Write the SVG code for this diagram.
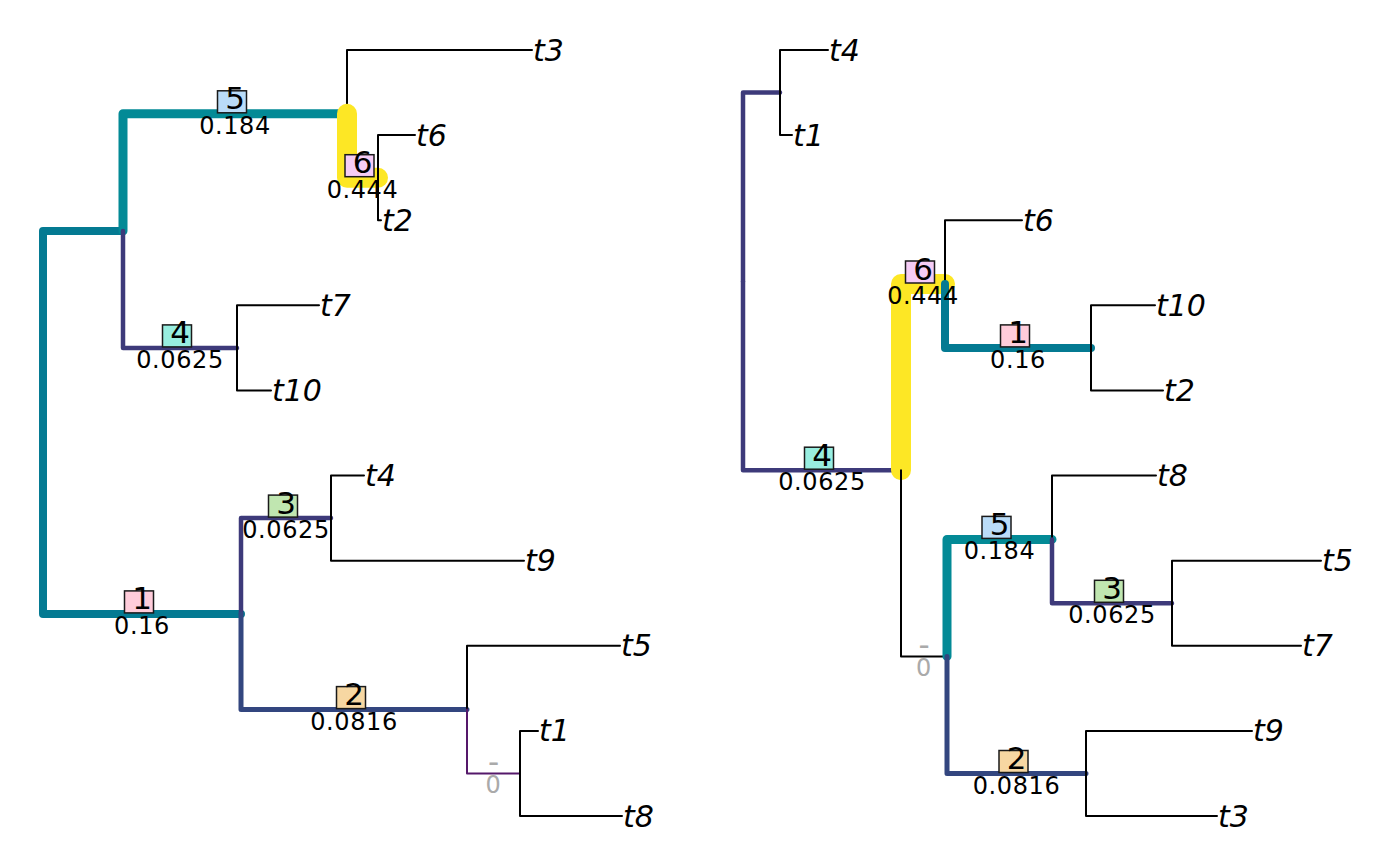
<svg xmlns="http://www.w3.org/2000/svg" width="1400" height="866" viewBox="0 0 1400 866">
<style>
.e{fill:none;stroke-linecap:round;stroke-linejoin:round}
.k{stroke:#000;stroke-width:2}
.y{stroke:#FDE725;stroke-width:20}
.a{stroke:#038A96;stroke-width:9}
.b{stroke:#047A92;stroke-width:8}
.c{stroke:#33467F;stroke-width:5}
.d{stroke:#3D3A7A;stroke-width:4.5}
.p{stroke:#55186A;stroke-width:2}
.tip{font-family:"DejaVu Sans",sans-serif;font-style:italic;font-size:30px;fill:#000}
.num{font-family:"DejaVu Sans",sans-serif;font-size:31px;fill:#000;text-anchor:middle}
.val{font-family:"DejaVu Sans",sans-serif;font-size:24px;letter-spacing:0.6px;fill:#000;text-anchor:middle}
.gray{fill:#AAAAAA}
.box{stroke:#1a1a1a;stroke-width:1.5}
</style>
<rect width="1400" height="866" fill="#fff"/>
<g id="connectors">
<g id="edges-left">
<path class="e b" d="M43 422.4V230.9H123"/>
<path class="e a" d="M123 230.9V113.8H347"/>
<path class="e k" d="M347 113.8V50H532"/>
<path class="e y" d="M347 113.8V177.7H378"/>
<path class="e k" d="M378 177.7V135.1H415"/>
<path class="e k" d="M378 177.7V220.2H381"/>
<path class="e d" d="M123 230.9V347.9H237"/>
<path class="e k" d="M237 347.9V305.3H319"/>
<path class="e k" d="M237 347.9V390.4H271"/>
<path class="e b" d="M43 422.4V613.9H241"/>
<path class="e d" d="M241 613.9V518.1H331"/>
<path class="e k" d="M331 518.1V475.6H364"/>
<path class="e k" d="M331 518.1V560.7H524"/>
<path class="e c" d="M241 613.9V709.6H467"/>
<path class="e k" d="M467 709.6V645.8H620"/>
<path class="e p" d="M467 709.6V773.5H520"/>
<path class="e k" d="M520 773.5V730.9H538"/>
<path class="e k" d="M520 773.5V816H622"/>
</g>
<g id="edges-right">
<path class="e d" d="M743 281.4V92.6H780"/>
<path class="e k" d="M780 92.6V50H828"/>
<path class="e k" d="M780 92.6V135.1H792"/>
<path class="e d" d="M743 281.4V470.2H901"/>
<path class="e y" d="M901 470.2V284H945"/>
<path class="e k" d="M945 284V220.2H1022"/>
<path class="e b" d="M945 284V347.9H1091"/>
<path class="e k" d="M1091 347.9V305.3H1155"/>
<path class="e k" d="M1091 347.9V390.4H1163"/>
<path class="e k" d="M901 470.2V656.4H947"/>
<path class="e a" d="M947 656.4V539.4H1052"/>
<path class="e k" d="M1052 539.4V475.6H1156"/>
<path class="e d" d="M1052 539.4V603.3H1172"/>
<path class="e k" d="M1172 603.3V560.7H1321"/>
<path class="e k" d="M1172 603.3V645.8H1301"/>
<path class="e c" d="M947 656.4V773.5H1086"/>
<path class="e k" d="M1086 773.5V730.9H1252"/>
<path class="e k" d="M1086 773.5V816H1217"/>
</g>
</g>
<g id="tips-left">
<g id="L-t3"><text class="tip" x="533" y="61">t3</text></g>
<g id="L-t6"><text class="tip" x="416" y="146">t6</text></g>
<g id="L-t2"><text class="tip" x="382" y="231">t2</text></g>
<g id="L-t7"><text class="tip" x="320" y="316">t7</text></g>
<g id="L-t10"><text class="tip" x="272" y="401">t10</text></g>
<g id="L-t4"><text class="tip" x="365" y="486">t4</text></g>
<g id="L-t9"><text class="tip" x="525" y="571">t9</text></g>
<g id="L-t5"><text class="tip" x="621" y="656">t5</text></g>
<g id="L-t1"><text class="tip" x="539" y="741">t1</text></g>
<g id="L-t8"><text class="tip" x="623" y="827">t8</text></g>
</g>
<g id="tips-right">
<g id="R-t4"><text class="tip" x="829" y="61">t4</text></g>
<g id="R-t1"><text class="tip" x="793" y="146">t1</text></g>
<g id="R-t6"><text class="tip" x="1023" y="231">t6</text></g>
<g id="R-t10"><text class="tip" x="1156" y="316">t10</text></g>
<g id="R-t2"><text class="tip" x="1164" y="401">t2</text></g>
<g id="R-t8"><text class="tip" x="1157" y="486">t8</text></g>
<g id="R-t5"><text class="tip" x="1322" y="571">t5</text></g>
<g id="R-t7"><text class="tip" x="1302" y="656">t7</text></g>
<g id="R-t9"><text class="tip" x="1253" y="741">t9</text></g>
<g id="R-t3"><text class="tip" x="1218" y="827">t3</text></g>
</g>
<g id="labels-left">
<g id="L-e5"><rect class="box" x="217.5" y="90.8" width="29" height="22" fill="#BADCF8"/><text class="num" x="235" y="109.3">5</text><text class="val" x="235" y="133.8">0.184</text></g>
<g id="L-e6"><rect class="box" x="345" y="154.7" width="29" height="22" fill="#F5CCF5"/><text class="num" x="362.5" y="173.2">6</text><text class="val" x="362.5" y="197.7">0.444</text></g>
<g id="L-e4"><rect class="box" x="162.5" y="324.9" width="29" height="22" fill="#98EEE0"/><text class="num" x="180" y="343.4">4</text><text class="val" x="180" y="367.9">0.0625</text></g>
<g id="L-e1"><rect class="box" x="124.5" y="590.9" width="29" height="22" fill="#FFCCDA"/><text class="num" x="142" y="609.4">1</text><text class="val" x="142" y="633.9">0.16</text></g>
<g id="L-e3"><rect class="box" x="268.5" y="495.1" width="29" height="22" fill="#C0E6B0"/><text class="num" x="286" y="513.6">3</text><text class="val" x="286" y="538.1">0.0625</text></g>
<g id="L-e2"><rect class="box" x="336.5" y="686.6" width="29" height="22" fill="#F7D7A2"/><text class="num" x="354" y="705.1">2</text><text class="val" x="354" y="729.6">0.0816</text></g>
<g id="L-e0"><text class="num gray" x="493.5" y="772">-</text><text class="val gray" x="493.5" y="793">0</text></g>
</g>
<g id="labels-right">
<g id="R-e4"><rect class="box" x="804.5" y="447.2" width="29" height="22" fill="#98EEE0"/><text class="num" x="822" y="465.7">4</text><text class="val" x="822" y="490.2">0.0625</text></g>
<g id="R-e6"><rect class="box" x="905.5" y="261" width="29" height="22" fill="#F5CCF5"/><text class="num" x="923" y="279.5">6</text><text class="val" x="923" y="304">0.444</text></g>
<g id="R-e1"><rect class="box" x="1000.5" y="324.9" width="29" height="22" fill="#FFCCDA"/><text class="num" x="1018" y="343.4">1</text><text class="val" x="1018" y="367.9">0.16</text></g>
<g id="R-e5"><rect class="box" x="982" y="516.4" width="29" height="22" fill="#BADCF8"/><text class="num" x="999.5" y="534.9">5</text><text class="val" x="999.5" y="559.4">0.184</text></g>
<g id="R-e3"><rect class="box" x="1094.5" y="580.3" width="29" height="22" fill="#C0E6B0"/><text class="num" x="1112" y="598.8">3</text><text class="val" x="1112" y="623.3">0.0625</text></g>
<g id="R-e2"><rect class="box" x="999" y="750.5" width="29" height="22" fill="#F7D7A2"/><text class="num" x="1016.5" y="769">2</text><text class="val" x="1016.5" y="793.5">0.0816</text></g>
<g id="R-e0"><text class="num gray" x="924" y="655">-</text><text class="val gray" x="924" y="675.5">0</text></g>
</g>
</svg>
